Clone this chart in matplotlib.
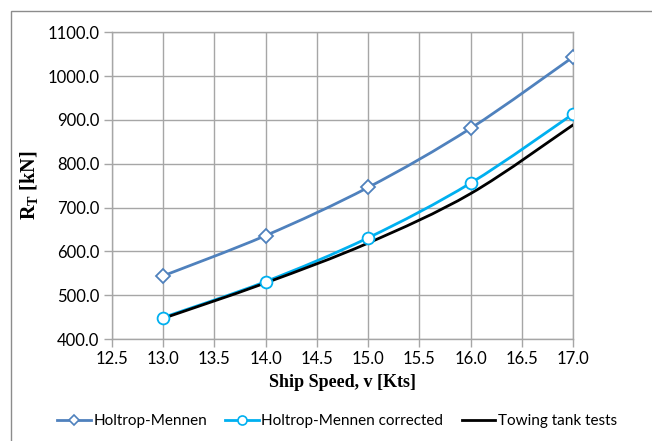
import matplotlib
matplotlib.use("Agg")
import matplotlib.pyplot as plt
from matplotlib.path import Path
from matplotlib.patches import PathPatch, Rectangle
from matplotlib.lines import Line2D
import numpy as np

# ship speed [kts] and total resistance [kN]
speed = [13.0, 14.0, 15.0, 16.0, 17.0]
rt_holtrop = [544, 636, 746, 881, 1044]
rt_holtrop_corr = [449, 531, 631, 756, 914]
rt_towing = [447, 528, 619, 732, 889]

x_ticks = [12.5, 13.0, 13.5, 14.0, 14.5, 15.0, 15.5, 16.0, 16.5, 17.0]
y_ticks = [400, 500, 600, 700, 800, 900, 1000, 1100]

BLUE, CYAN, BLACK = "#4F81BD", "#00B0F0", "#000000"
GRID = "#A6A6A6"
TICK_FONT = "Lato"
LABEL_FONT = "Liberation Serif"

plt.rcParams["mathtext.fontset"] = "custom"
plt.rcParams["mathtext.bf"] = "Liberation Serif:bold"
plt.rcParams["mathtext.rm"] = "Liberation Serif"


def smooth_path(xs, ys):
    # spreadsheet-style smoothed line: cubic Bezier through every point
    pts = np.column_stack([xs, ys]).astype(float)
    n = len(pts)
    verts = [pts[0]]
    codes = [Path.MOVETO]
    for i in range(n - 1):
        p0 = pts[max(i - 1, 0)]
        p1, p2 = pts[i], pts[i + 1]
        p3 = pts[min(i + 2, n - 1)]
        verts += [p1 + (p2 - p0) / 6, p2 - (p3 - p1) / 6, p2]
        codes += [Path.CURVE4] * 3
    return Path(verts, codes)


W, H, DPI = 652, 441, 100
fig = plt.figure(figsize=(W / DPI, H / DPI), dpi=DPI)
ax = fig.add_axes([111.7 / W, 1 - 339 / H, (573.3 - 111.7) / W, (339 - 32.3) / H])

# chart frame
fig.patches.append(Rectangle((11.3 / W, -0.05), 1.2, 1 - 10.5 / H + 0.05,
                             transform=fig.transFigure, fill=False,
                             edgecolor="#8C8C8C", lw=1.0))

series = [
    (rt_holtrop, BLUE, "D", 7, 5, "Holtrop-Mennen"),
    (rt_holtrop_corr, CYAN, "o", 8.5, 6.5, "Holtrop-Mennen corrected"),
    (rt_towing, BLACK, None, 0, 0, "Towing tank tests"),
]
handles = []
for vals, col, mk, ms, leg_ms, label in series:
    ax.add_patch(PathPatch(smooth_path(speed, vals), fill=False, edgecolor=col,
                           lw=2.0, zorder=3, capstyle="round"))
    if mk:
        ax.plot(speed, vals, ls="none", marker=mk, ms=ms, mfc="white",
                mec=col, mew=1.3, zorder=4)
    handles.append(Line2D([], [], color=col, lw=2.0, marker=mk, ms=leg_ms,
                          mfc="white", mec=col, mew=1.2, label=label))

ax.set_xlim(12.5, 17.0)
ax.set_ylim(400, 1100)
ax.set_xticks(x_ticks)
ax.set_yticks(y_ticks)
ax.set_xticklabels([f"{v:.1f}" for v in x_ticks], family=TICK_FONT, fontsize=12)
ax.set_yticklabels([f"{v:.1f}" for v in y_ticks], family=TICK_FONT, fontsize=12)
ax.grid(True, color=GRID, lw=1.0, zorder=0)
ax.set_axisbelow(True)
for s in ax.spines.values():
    s.set_color(GRID)
    s.set_linewidth(1.0)
ax.tick_params(direction="out", length=6, width=1.0, color=GRID, pad=3)

ax.set_xlabel("Ship Speed, v [Kts]", family=LABEL_FONT, fontweight="bold",
              fontsize=13, labelpad=5)
ax.set_ylabel(r"$\mathbf{R_T}$ [kN]", family=LABEL_FONT, fontweight="bold",
              fontsize=14.5, labelpad=5)

fig.legend(handles=handles, loc="center", bbox_to_anchor=(337 / W, 1 - 421 / H),
           ncol=3, frameon=False, prop={"family": TICK_FONT, "size": 11},
           handlelength=2.2, handletextpad=0.15, columnspacing=1.2)

fig.savefig("out.png", dpi=DPI)
